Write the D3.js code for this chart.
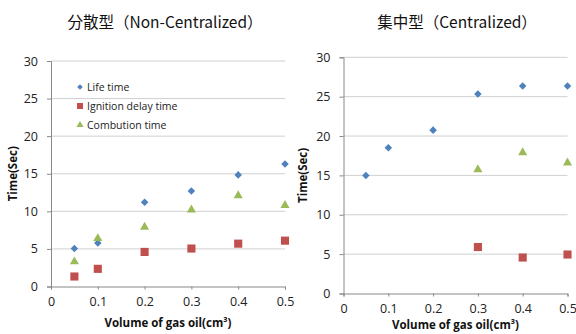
<!DOCTYPE html>
<html>
<head>
<meta charset="utf-8">
<script src="https://cdn.jsdelivr.net/npm/d3@7"></script>
<style>
  html, body { margin: 0; padding: 0; background: #fff; }
  svg { display: block; }
  text { font-family: "Open Sans", "Liberation Sans", sans-serif; }
</style>
</head>
<body>
<svg id="chart" width="576" height="334"></svg>
<script>
// Volumes of gas oil (cm³)
const volumesNonCentral = [0.05, 0.1, 0.2, 0.3, 0.4, 0.5];
const lifeNonCentral = [5.05, 5.8, 11.2, 12.7, 14.85, 16.3];
const ignitionNonCentral = [1.33, 2.35, 4.6, 5.05, 5.7, 6.1];
const combustionNonCentral = [3.3, 6.4, 7.9, 10.2, 12.1, 10.8];

const volumesLifeCentral = [0.05, 0.1, 0.2, 0.3, 0.4, 0.5];
const lifeCentral = [15.0, 18.5, 20.75, 25.35, 26.35, 26.35];
const volumesLaterCentral = [0.3, 0.4, 0.5];
const ignitionCentral = [5.9, 4.57, 4.95];
const combustionCentral = [15.75, 17.9, 16.6];

const xTicks = [0, 0.1, 0.2, 0.3, 0.4, 0.5];
const yTicks = [0, 5, 10, 15, 20, 25, 30];
const titles = ["分散型（Non-Centralized）", "集中型（Centralized）"];
const seriesNames = ["Life time", "Ignition delay time", "Combution time"];
const colors = ["#4F81BD", "#C0504D", "#9BBB59"];

const svg = d3.select("#chart");

const symbolTypes = [d3.symbolDiamond2, d3.symbolSquare, d3.symbolTriangle];
const symbolSizes = [36, 66, 36];
const legendSizes = [20, 36, 22];

function drawPanel(cfg) {
  const x = d3.scaleLinear().domain([0, 0.5]).range([cfg.left, cfg.right]);
  const y = d3.scaleLinear().domain([0, 30]).range([cfg.bottom, cfg.top]);
  const g = svg.append("g");

  // horizontal gridlines
  g.append("g").selectAll("line").data(yTicks.filter(d => d > 0)).join("line")
    .attr("x1", cfg.left).attr("x2", cfg.right)
    .attr("y1", d => y(d)).attr("y2", d => y(d))
    .attr("stroke", "#d0d0d0").attr("stroke-width", 1);

  // y axis
  const ya = g.append("g").attr("transform", `translate(${cfg.left},0)`)
    .call(d3.axisLeft(y).tickValues(yTicks).tickSize(4).tickPadding(9).tickFormat(d3.format("d")));
  ya.select(".domain").attr("stroke", "#888");
  ya.selectAll(".tick line").attr("stroke", "#888");
  ya.selectAll("text").attr("font-size", 12.5).attr("fill", "#222")
    .style("font-family", "'Open Sans', sans-serif");

  // x axis
  const xa = g.append("g").attr("transform", `translate(0,${cfg.bottom})`)
    .call(d3.axisBottom(x).tickValues(xTicks).tickSize(3).tickPadding(8)
      .tickFormat(d => d === 0 ? "0" : d3.format(".1f")(d)));
  xa.select(".domain").attr("stroke", "#888");
  xa.selectAll(".tick line").attr("stroke", "#888");
  xa.selectAll("text").attr("font-size", 12.5).attr("fill", "#222")
    .style("font-family", "'Open Sans', sans-serif");

  // title
  g.append("text").attr("x", cfg.titleX).attr("y", 28)
    .attr("text-anchor", "middle").attr("font-size", 15.5).attr("fill", "#111")
    .style("font-family", "'Noto Sans CJK JP', 'Open Sans', sans-serif")
    .text(cfg.title);

  // axis titles
  g.append("text")
    .attr("transform", `translate(${cfg.yLabelX},${(cfg.top + cfg.bottom) / 2}) rotate(-90)`)
    .attr("text-anchor", "middle").attr("font-size", 11.5).attr("font-weight", "bold").attr("fill", "#111")
    .text("Time(Sec)");
  g.append("text").attr("x", (cfg.left + cfg.right) / 2).attr("y", cfg.xLabelY)
    .attr("text-anchor", "middle").attr("font-size", 11.5).attr("font-weight", "bold").attr("fill", "#111")
    .text("Volume of gas oil(cm³)");

  // markers
  cfg.series.forEach((s, i) => {
    g.append("g").selectAll("path").data(s.values.map((v, k) => [s.xs[k], v])).join("path")
      .attr("transform", d => `translate(${x(d[0])},${y(d[1])})`)
      .attr("d", d3.symbol().type(symbolTypes[i]).size(symbolSizes[i]))
      .attr("fill", colors[i]);
  });
  return { x, y, g };
}

drawPanel({
  left: 51, right: 285, top: 61, bottom: 286.5, titleX: 165, yLabelX: 17, xLabelY: 327,
  title: titles[0],
  series: [
    { xs: volumesNonCentral, values: lifeNonCentral },
    { xs: volumesNonCentral, values: ignitionNonCentral },
    { xs: volumesNonCentral, values: combustionNonCentral }
  ]
});

drawPanel({
  left: 343.5, right: 567.5, top: 57.3, bottom: 293.5, titleX: 457, yLabelX: 307, xLabelY: 329,
  title: titles[1],
  series: [
    { xs: volumesLifeCentral, values: lifeCentral },
    { xs: volumesLaterCentral, values: ignitionCentral },
    { xs: volumesLaterCentral, values: combustionCentral }
  ]
});

// legend inside the non-centralized panel
const legend = svg.append("g").attr("transform", "translate(80,87)");
seriesNames.forEach((name, i) => {
  const row = legend.append("g").attr("transform", `translate(0,${i * 19})`);
  row.append("path")
    .attr("d", d3.symbol().type(symbolTypes[i]).size(legendSizes[i]))
    .attr("fill", colors[i]);
  row.append("text").attr("x", 7).attr("y", 4).attr("font-size", 10.5).attr("fill", "#222")
    .text(name);
});
</script>
</body>
</html>
